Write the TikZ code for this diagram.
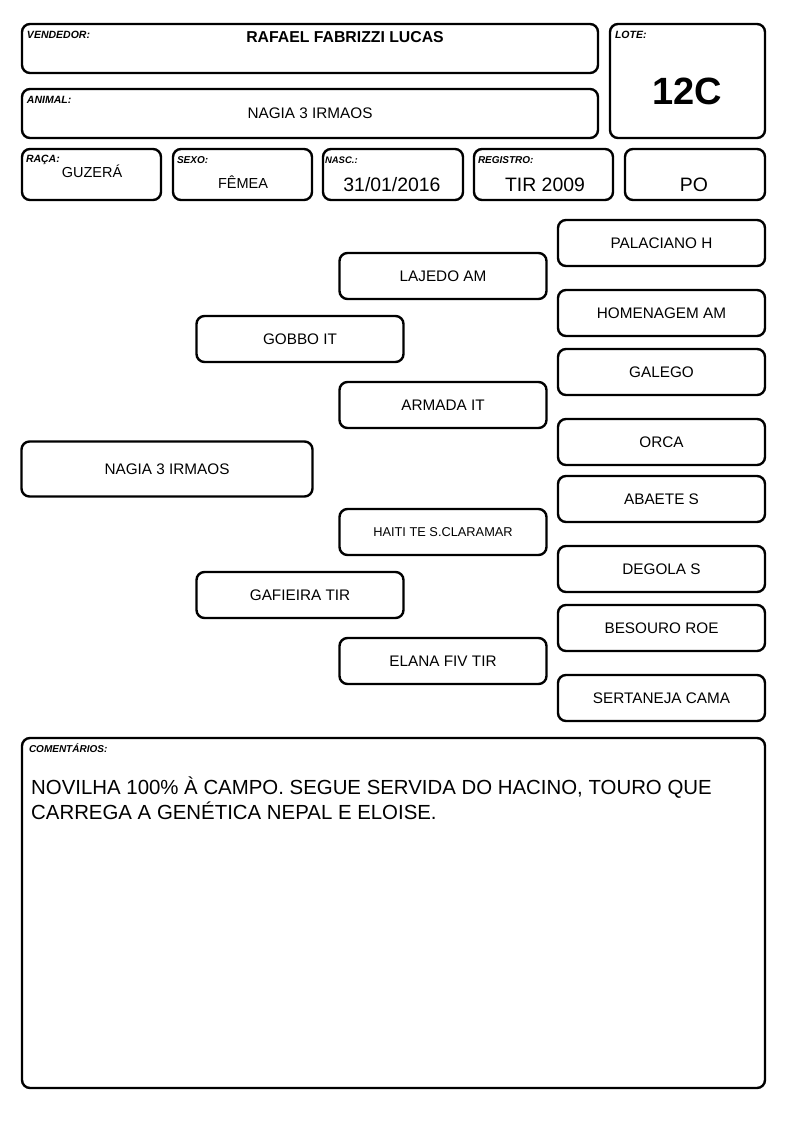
\documentclass[tikz,border=0pt]{standalone}
\usepackage{fontspec}
\setmainfont{Liberation Sans}
\usetikzlibrary{calc}

\tikzset{
  cardbox/.style={draw,line width=2.4pt,rounded corners=8pt,inner sep=0pt},
  fieldlabel/.style={anchor=base west,inner sep=0pt,font=\fontsize{10.5}{12}\selectfont\bfseries\itshape},
  fieldvalue/.style={anchor=base,inner sep=0pt,font=\fontsize{14.5}{17}\selectfont},
  pedbox/.style={cardbox,minimum width=207,minimum height=46,font=\fontsize{15.3}{18}\selectfont},
}

\begin{document}
\begin{tikzpicture}[x=1pt,y=-1pt]
        \useasboundingbox[fill=white] (0,0) rectangle (794,1123);
        % draw the header cards
        \node[cardbox,minimum width=576,minimum height=49] (vendedor) at (310,48.5) {};
        \node[cardbox,minimum width=576,minimum height=49] (animal) at (310,113.5) {};
        \node[cardbox,minimum width=155,minimum height=114] (lote) at (687.5,81) {};
        \node[fieldlabel] at ($(vendedor.north west)+(6,16)$) {VENDEDOR:};
        \node[fieldlabel] at ($(animal.north west)+(6,16)$) {ANIMAL:};
        \node[fieldlabel] at ($(lote.north west)+(6,16)$) {LOTE:};
        \node[anchor=base,inner sep=0pt,font=\fontsize{15.8}{18}\selectfont\bfseries] (vendedorname) at (345,43) {RAFAEL FABRIZZI LUCAS};
        \node[anchor=base,inner sep=0pt,font=\fontsize{15.3}{18}\selectfont] (animalname) at (310,119) {NAGIA 3 IRMAOS};
        \node[anchor=base,inner sep=0pt,font=\fontsize{38}{40}\selectfont\bfseries] (lotenum) at (687.5,105) {12C};
        % draw the data cards
        \node[cardbox,minimum width=139,minimum height=51] (raca) at (91.5,174.5) {};
        \node[cardbox,minimum width=139,minimum height=51] (sexo) at (242.5,174.5) {};
        \node[cardbox,minimum width=140,minimum height=51] (nasc) at (393,174.5) {};
        \node[cardbox,minimum width=139,minimum height=51] (registro) at (543.5,174.5) {};
        \node[cardbox,minimum width=140,minimum height=51] (categoria) at (695,174.5) {};
        \node[fieldlabel] at ($(raca.north west)+(5,15)$) {RAÇA:};
        \node[fieldlabel,font=\fontsize{10}{12}\selectfont\bfseries\itshape] at ($(sexo.north west)+(5,16)$) {SEXO:};
        \node[fieldlabel,font=\fontsize{9.5}{12}\selectfont\bfseries\itshape] at ($(nasc.north west)+(3,16)$) {NASC.:};
        \node[fieldlabel,font=\fontsize{10}{12}\selectfont\bfseries\itshape] at ($(registro.north west)+(5,16)$) {REGISTRO:};
        \node[fieldvalue] at (92,178) {GUZERÁ};
        \node[fieldvalue] at (243,189) {FÊMEA};
        \node[fieldvalue,font=\fontsize{19.4}{22}\selectfont] at (392,192) {31/01/2016};
        \node[fieldvalue,font=\fontsize{19.4}{22}\selectfont] at (545,192) {TIR 2009};
        \node[fieldvalue,font=\fontsize{19.4}{22}\selectfont] at (694,192) {PO};
        % draw the pedigree
        \node[pedbox,minimum width=291,minimum height=55] (animalped) at (167,469) {NAGIA 3 IRMAOS};
        \node[pedbox] (pai) at (300,339) {GOBBO IT};
        \node[pedbox] (mae) at (300,595) {GAFIEIRA TIR};
        \node[pedbox] (avopp) at (443,276) {LAJEDO AM};
        \node[pedbox] (avopm) at (443,405) {ARMADA IT};
        \node[pedbox,font=\fontsize{12.8}{15}\selectfont] (avomp) at (443,532) {HAITI TE S.CLARAMAR};
        \node[pedbox] (avomm) at (443,661) {ELANA FIV TIR};
        \foreach \name/\ypos/\txt in {b1/243/PALACIANO H, b2/313/HOMENAGEM AM, b3/372/GALEGO, b4/442/ORCA,
            b5/499/ABAETE S, b6/569/DEGOLA S, b7/628/BESOURO ROE, b8/698/SERTANEJA CAMA}
          \node[pedbox] (\name) at (661.5,\ypos) {\txt};
        % draw the comments
        \node[cardbox,minimum width=743,minimum height=350] (comentarios) at (393.5,913) {};
        \node[fieldlabel,font=\fontsize{10}{12}\selectfont\bfseries\itshape] at ($(comentarios.north west)+(8,16)$) {COMENTÁRIOS:};
        \node[anchor=north west,inner sep=0pt,align=left,font=\fontsize{20.4}{24.5}\selectfont] (comentariotxt) at (31,777)
          {NOVILHA 100\% À CAMPO. SEGUE SERVIDA DO HACINO, TOURO QUE\\CARREGA A GENÉTICA NEPAL E ELOISE.};
    \end{tikzpicture}
\end{document}
